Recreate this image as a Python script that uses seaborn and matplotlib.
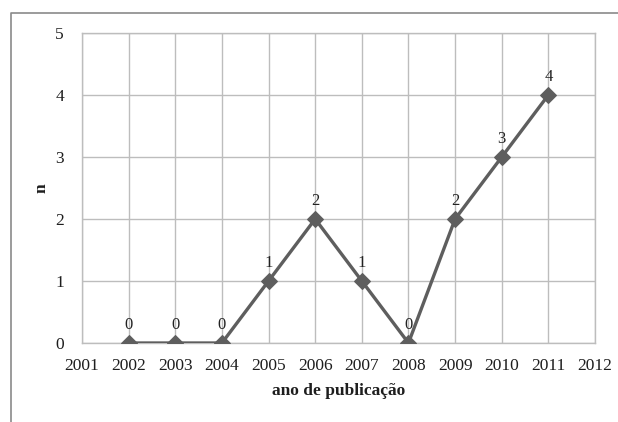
import matplotlib
matplotlib.use("Agg")
import matplotlib.pyplot as plt
import seaborn as sns
import pandas as pd
from matplotlib.lines import Line2D

years = [2002, 2003, 2004, 2005, 2006, 2007, 2008, 2009, 2010, 2011]
counts = [0, 0, 0, 1, 2, 1, 0, 2, 3, 4]
xticks = list(range(2001, 2013))
yticks = [0, 1, 2, 3, 4, 5]
xlabel = "ano de publicação"
ylabel = "n"

sns.set_style("white")
plt.rcParams['font.family'] = ['Liberation Serif', 'DejaVu Serif']

df = pd.DataFrame({"ano": years, "n": counts})

fig = plt.figure(figsize=(6.18, 4.22), dpi=100)
ax = fig.add_axes([82/618, 1 - 343/422, (595-82)/618, (343-33)/422])

line_col = "#5e5e5e"
sns.lineplot(data=df, x="ano", y="n", ax=ax, color=line_col, linewidth=2.4,
             marker="D", markersize=8, markeredgecolor=line_col,
             markerfacecolor=line_col, zorder=3)

for x, y in zip(years, counts):
    ax.annotate(str(y), (x, y), xytext=(0, 7), textcoords="offset points",
                ha="center", va="bottom", fontsize=12, color="#222222")

ax.set_xlim(2001, 2012)
ax.set_ylim(0, 5)
ax.set_xticks(xticks)
ax.set_yticks(yticks)
ax.set_xticklabels([str(t) for t in xticks], fontsize=12.5, color="#1e1e1e")
ax.set_yticklabels([str(t) for t in yticks], fontsize=12.5, color="#1e1e1e")
ax.tick_params(axis="x", length=0, pad=11)
ax.tick_params(axis="y", length=0, pad=13)
ax.grid(True, color="#bdbdbd", linewidth=1)
for s in ax.spines.values():
    s.set_color("#bdbdbd")
    s.set_linewidth(1)
ax.set_xlabel(xlabel, fontsize=12.5, fontweight="bold", color="#1e1e1e", labelpad=6)
ax.set_ylabel(ylabel, fontsize=12.5, fontweight="bold", color="#1e1e1e", labelpad=4)

# outer frame (top and left visible)
fig.add_artist(Line2D([11/618, 11/618, 1.0], [0.0, 1 - 13/422, 1 - 13/422],
                      transform=fig.transFigure, color="#8a8a8a", linewidth=1.2))

fig.savefig("out.png", dpi=100)
